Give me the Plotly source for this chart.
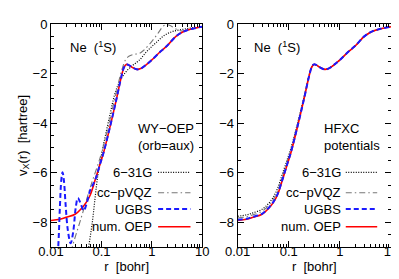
import plotly.graph_objects as go
from plotly.subplots import make_subplots

# ---------------- data ----------------
# numerical OEP (reference) - same in both panels
r_oep = [0.01, 0.015, 0.02, 0.03, 0.04, 0.05, 0.06, 0.075, 0.094, 0.11, 0.15, 0.2, 0.25, 0.28,
         0.31, 0.35, 0.4, 0.5, 0.6, 0.8, 1.0, 1.5, 2.0, 3.0, 4.0, 5.0, 7.0, 10.0]
v_oep = [-7.93, -7.88, -7.8, -7.68, -7.45, -7.2, -6.9, -6.3, -5.65, -5.2, -4.1, -3.0, -2.1, -1.75,
         -1.63, -1.66, -1.74, -1.83, -1.8, -1.62, -1.45, -1.1, -0.88, -0.5, -0.33, -0.25, -0.17, -0.11]

# WY-OEP (orb=aux) panel
r_wy_631g = [0.054, 0.056, 0.066, 0.075, 0.085, 0.1, 0.12, 0.15, 0.18, 0.22, 0.3, 0.4, 0.57, 0.8,
             1.2, 1.8, 2.6, 4.0, 6.0, 10.0]
v_wy_631g = [-9.3, -9.0, -8.0, -7.0, -6.1, -5.3, -4.5, -3.6, -2.9, -2.4, -1.95, -1.7, -1.45, -1.1,
             -0.76, -0.45, -0.3, -0.22, -0.16, -0.11]

r_wy_qz = [0.0255, 0.0265, 0.04, 0.06, 0.094, 0.12, 0.15, 0.2, 0.25, 0.3, 0.35, 0.45, 0.55, 0.7,
           1.0, 1.3, 1.7, 2.0, 2.4, 3.0, 4.0, 5.0, 7.0, 10.0]
v_wy_qz = [-9.2, -9.0, -7.8, -6.6, -5.4, -4.6, -3.8, -2.7, -1.9, -1.45, -1.3, -1.22, -1.2, -1.05,
           -0.7, -0.4, -0.08, -0.03, -0.08, -0.2, -0.28, -0.25, -0.17, -0.11]

r_wy_ugbs = [0.013, 0.0139, 0.015, 0.016, 0.0169, 0.018, 0.0195, 0.0215, 0.0245, 0.0275, 0.031,
             0.0341, 0.038, 0.0446, 0.05, 0.06, 0.075, 0.094, 0.11, 0.15, 0.2, 0.25, 0.28, 0.31,
             0.35, 0.4, 0.5, 0.6, 0.8, 1.0, 1.5, 2.0, 3.0, 4.0, 5.0, 7.0, 10.0]
v_wy_ugbs = [-9.6, -9.0, -7.4, -6.3, -5.98, -6.3, -7.3, -8.3, -8.85, -8.4, -7.4,
             -7.02, -7.2, -7.54, -7.3, -6.7, -6.3, -5.65, -5.2, -4.1, -3.0, -2.1, -1.75, -1.63,
             -1.66, -1.74, -1.83, -1.8, -1.62, -1.45, -1.1, -0.88, -0.5, -0.33, -0.25, -0.17, -0.11]

# HFXC potentials panel
r_hf = r_oep
v_hf_631g = [-7.76, -7.7, -7.62, -7.48, -7.25, -6.98, -6.65, -6.05, -5.45, -5.02, -3.97, -2.92, -2.06, -1.73,
             -1.63, -1.66, -1.74, -1.83, -1.8, -1.62, -1.45, -1.1, -0.88, -0.5, -0.33, -0.25, -0.17, -0.11]
v_hf_qz = [-7.83, -7.78, -7.7, -7.56, -7.33, -7.07, -6.76, -6.16, -5.53, -5.09, -4.02, -2.95, -2.08, -1.74,
           -1.63, -1.66, -1.74, -1.83, -1.8, -1.62, -1.45, -1.1, -0.88, -0.5, -0.33, -0.25, -0.17, -0.11]
v_hf_ugbs = [-7.9, -7.86, -7.78, -7.66, -7.43, -7.18, -6.88, -6.28, -5.63, -5.18, -4.09, -3.0, -2.1, -1.75,
             -1.63, -1.66, -1.74, -1.83, -1.8, -1.62, -1.45, -1.1, -0.88, -0.5, -0.33, -0.25, -0.17, -0.11]

series_names = ["6\u221231G", "cc\u2212pVQZ", "UGBS", "num. OEP"]
x_ticks = [0.01, 0.1, 1, 10]
x_ticktext = ["0.01", "0.1", "1", "10"]
y_ticks = [0, -2, -4, -6, -8]

# ---------------- styles ----------------
FONT = "Liberation Sans, Arial, sans-serif"
FS = 13
C_DOT = "black"
C_DD = "#777777"
C_BLUE = "#1a1aff"
C_RED = "#ff0000"
S_DOT = dict(color=C_DOT, width=1.2, dash="1px,1.5px")
S_DD = dict(color=C_DD, width=1.1, dash="6px,3px,1.5px,3px")
S_BLUE = dict(color=C_BLUE, width=2, dash="5px,3px")
S_RED = dict(color=C_RED, width=1.6)

fig = make_subplots(rows=1, cols=2, horizontal_spacing=0.1)

panels = [
    (1, (r_wy_631g, v_wy_631g), (r_wy_qz, v_wy_qz), (r_wy_ugbs, v_wy_ugbs)),
    (2, (r_hf, v_hf_631g), (r_hf, v_hf_qz), (r_hf, v_hf_ugbs)),
]
for col, s631, sqz, sug in panels:
    fig.add_trace(go.Scatter(x=s631[0], y=s631[1], mode="lines", line=S_DOT, line_shape="spline",
                             showlegend=False, name=series_names[0]), row=1, col=col)
    fig.add_trace(go.Scatter(x=sqz[0], y=sqz[1], mode="lines", line=S_DD, line_shape="spline",
                             showlegend=False, name=series_names[1]), row=1, col=col)
    fig.add_trace(go.Scatter(x=r_oep, y=v_oep, mode="lines", line=S_RED, line_shape="spline",
                             showlegend=False, name=series_names[3]), row=1, col=col)
    fig.add_trace(go.Scatter(x=sug[0], y=sug[1], mode="lines", line=S_BLUE, line_shape="spline",
                             showlegend=False, name=series_names[2]), row=1, col=col)

xcommon = dict(type="log", range=[-2, 1], tickvals=x_ticks, ticktext=x_ticktext,
               showline=True, linecolor="black", linewidth=1, mirror="ticks",
               ticks="inside", ticklen=6, tickcolor="black", showgrid=False, zeroline=False,
               minor=dict(ticks="inside", ticklen=3, tickcolor="black", dtick="D1", showgrid=False),
               tickfont=dict(family=FONT, size=FS, color="black"), ticklabelstandoff=-8,
               title=dict(text="r\u00a0\u00a0[bohr]", font=dict(family=FONT, size=FS, color="black"),
                          standoff=0))
ycommon = dict(range=[-9, 0], tickvals=y_ticks,
               showline=True, linecolor="black", linewidth=1, mirror="ticks",
               ticks="inside", ticklen=6, tickcolor="black", showgrid=False, zeroline=False,
               minor=dict(ticks="inside", ticklen=3, tickcolor="black", dtick=0.5, showgrid=False),
               tickfont=dict(family=FONT, size=FS, color="black"))

fig.update_xaxes(**xcommon)
fig.update_yaxes(**ycommon)
fig.update_xaxes(domain=[0, 0.445], row=1, col=1)
fig.update_xaxes(domain=[0.549, 1], row=1, col=2)
fig.update_yaxes(title=dict(text="v<sub>X</sub>(r)\u00a0\u00a0[hartree]",
                            font=dict(family=FONT, size=FS, color="black"), standoff=2),
                 row=1, col=1)

# annotations and manual gnuplot-style legends
ann = []
shapes = []
panel_refs = [("x", "y", 0.11, 0.565, "WY\u2212OEP", "(orb=aux)", 0.682, 0.708, 0.922),
              ("x2", "y2", 0.096, 0.551, "HFXC", "potentials", 0.686, 0.705, 0.91)]
row_y = [0.335, 0.243, 0.170, 0.091]
styles = [S_DOT, S_DD, S_BLUE, S_RED]
for xr, yr, nex, lx, l1, l2, tx, s0, s1 in panel_refs:
    xd, yd = xr + " domain", yr + " domain"
    ann.append(dict(xref=xd, yref=yd, x=nex, y=0.896, text="Ne\u00a0\u00a0(<sup>1</sup>S)",
                    showarrow=False, xanchor="left", yanchor="middle",
                    font=dict(family=FONT, size=FS, color="black")))
    ann.append(dict(xref=xd, yref=yd, x=lx, y=0.530, text=l1, showarrow=False,
                    xanchor="left", yanchor="middle", font=dict(family=FONT, size=FS, color="black")))
    ann.append(dict(xref=xd, yref=yd, x=lx, y=0.457, text=l2, showarrow=False,
                    xanchor="left", yanchor="middle", font=dict(family=FONT, size=FS, color="black")))
    for name, yy, st in zip(series_names, row_y, styles):
        ann.append(dict(xref=xd, yref=yd, x=tx, y=yy, text=name, showarrow=False,
                        xanchor="right", yanchor="middle",
                        font=dict(family=FONT, size=FS, color="black")))
        shapes.append(dict(type="line", xref=xd, yref=yd, x0=s0, x1=s1, y0=yy, y1=yy, line=st))

fig.update_layout(width=399, height=279, margin=dict(l=43, r=10, t=9, b=40),
                  paper_bgcolor="white", plot_bgcolor="white",
                  annotations=ann, shapes=shapes, showlegend=False,
                  font=dict(family=FONT, size=FS, color="black"))

fig.write_html("out.html")
